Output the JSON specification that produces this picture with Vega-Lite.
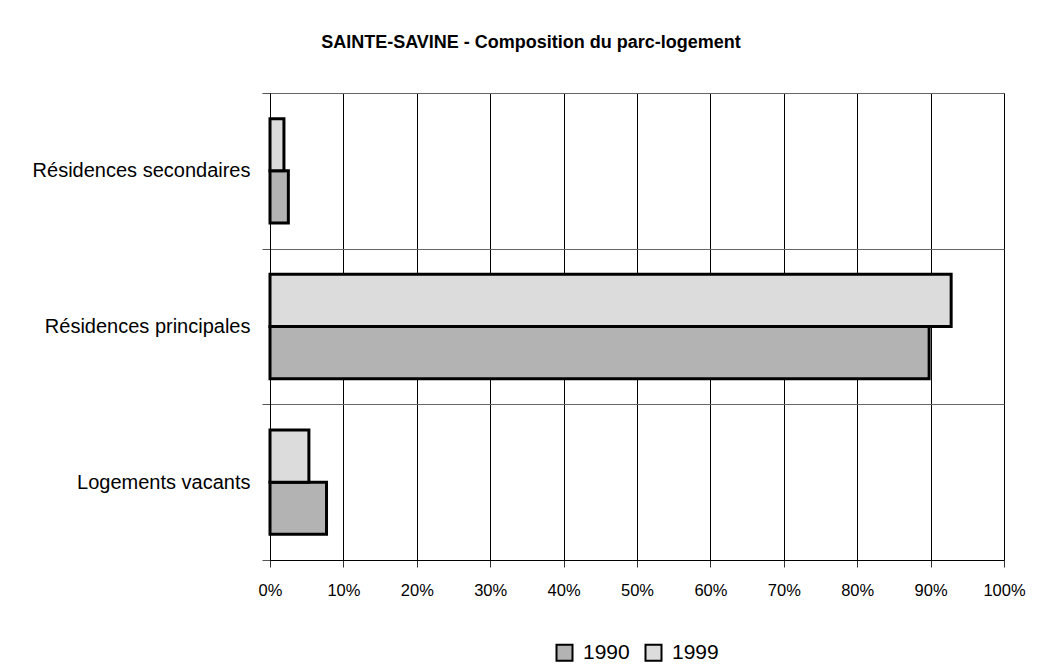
{
  "$schema": "https://vega.github.io/schema/vega-lite/v6.json",
  "width": 734,
  "height": 467,
  "autosize": {"type": "none"},
  "padding": {"left": 270, "top": 93, "right": 37, "bottom": 112},
  "background": "white",
  "title": {
    "text": "SAINTE-SAVINE - Composition du parc-logement",
    "font": "Liberation Sans",
    "fontSize": 18,
    "fontWeight": "bold",
    "color": "black",
    "anchor": "middle",
    "baseline": "alphabetic",
    "offset": 17,
    "dx": -106
  },
  "data": {
    "values": [
      {"categorie": "Résidences secondaires", "annee": "1990", "part": 0.025},
      {"categorie": "Résidences secondaires", "annee": "1999", "part": 0.019},
      {"categorie": "Résidences principales", "annee": "1990", "part": 0.898},
      {"categorie": "Résidences principales", "annee": "1999", "part": 0.928},
      {"categorie": "Logements vacants", "annee": "1990", "part": 0.077},
      {"categorie": "Logements vacants", "annee": "1999", "part": 0.053}
    ]
  },
  "mark": {"type": "bar", "stroke": "black", "strokeWidth": 3, "cornerRadius": 0},
  "encoding": {
    "y": {
      "field": "categorie",
      "type": "nominal",
      "sort": ["Résidences secondaires", "Résidences principales", "Logements vacants"],
      "scale": {"paddingInner": 0, "paddingOuter": 0},
      "axis": {
        "title": null,
        "tickBand": "extent",
        "grid": true,
        "gridColor": "#666666",
        "gridWidth": 1,
        "gridOpacity": 1,
        "domainColor": "black",
        "domainWidth": 1,
        "tickColor": "#555555",
        "tickSize": 8,
        "labelPadding": 12,
        "labelFont": "Liberation Sans",
        "labelFontSize": 20,
        "labelColor": "black",
        "labelLimit": 400
      }
    },
    "yOffset": {
      "field": "annee",
      "type": "nominal",
      "sort": ["1999", "1990"],
      "scale": {"paddingInner": 0, "paddingOuter": 0.4925}
    },
    "x": {
      "field": "part",
      "type": "quantitative",
      "scale": {"domain": [0, 1], "nice": false},
      "axis": {
        "title": null,
        "format": ".0%",
        "values": [0, 0.1, 0.2, 0.3, 0.4, 0.5, 0.6, 0.7, 0.8, 0.9, 1],
        "grid": true,
        "gridColor": "black",
        "gridOpacity": 1,
        "gridWidth": 1,
        "domainColor": "black",
        "tickColor": "#333333",
        "tickSize": 7,
        "labelPadding": 15,
        "labelFont": "Liberation Sans",
        "labelFontSize": 16.5,
        "labelColor": "black",
        "labelFlush": false
      }
    },
    "fill": {
      "field": "annee",
      "type": "nominal",
      "scale": {"domain": ["1990", "1999"], "range": ["#b3b3b3", "#dcdcdc"]},
      "legend": {
        "title": null,
        "orient": "none",
        "direction": "horizontal",
        "legendX": 284,
        "legendY": 549,
        "padding": 0,
        "symbolType": "square",
        "symbolSize": 256,
        "symbolStrokeColor": "black",
        "symbolStrokeWidth": 2,
        "symbolOpacity": 1,
        "labelFont": "Liberation Sans",
        "labelFontSize": 21,
        "labelColor": "black",
        "labelOffset": 8,
        "columnPadding": 11
      }
    }
  },
  "config": {
    "view": {"stroke": "black", "strokeWidth": 1}
  }
}
